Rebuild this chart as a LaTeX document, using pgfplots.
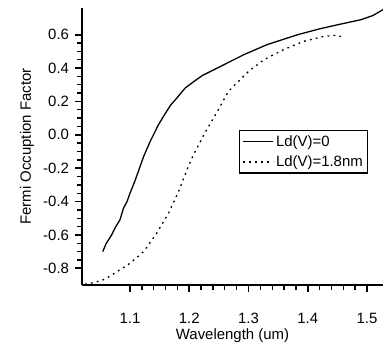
\documentclass[border=0pt]{standalone}
\usepackage{fontspec}
\setmainfont{Liberation Sans}
\usepackage{pgfplots}
\pgfplotsset{compat=1.18}
\begin{document}
\begin{tikzpicture}
\begin{axis}[
  at={(0,0)}, anchor=south west,
  scale only axis, width=301bp, height=277bp,
  xmin=1.019, xmax=1.527, ymin=-0.90, ymax=0.76,
  axis lines*=left,
  axis line style={line width=1.6bp},
  xtick={1.1,1.2,1.3,1.4,1.5},
  ytick={-0.8,-0.6,-0.4,-0.2,0,0.2,0.4,0.6},
  minor x tick num=4, minor y tick num=3,
  tick align=outside,
  major tick length=6.5bp, minor tick length=4.5bp,
  major tick style={black, line width=1.8bp},
  minor tick style={black, line width=1.4bp},
  /pgf/number format/assume math mode=true,
  /pgf/number format/.cd, fixed, fixed zerofill, precision=1, /pgfplots/.cd,
  ticklabel style={font=\fontsize{15}{15}\selectfont},
  xticklabel style={yshift=-18bp},
  yticklabel style={xshift=-3bp},
  xlabel={Wavelength (um)},
  ylabel={Fermi Occuption Factor},
  every axis x label/.style={at={(axis description cs:0.5,0)}, anchor=center, yshift=-51bp},
  every axis y label/.style={at={(axis description cs:0,0.5)}, xshift=-55bp, rotate=90, anchor=center},
  label style={font=\fontsize{15}{15}\selectfont},
  legend style={at={(axis description cs:0.522,0.56)}, anchor=north west, draw=black, line width=1.2bp,
    font=\fontsize{15}{15}\selectfont, inner xsep=3bp, inner ysep=3bp, row sep=4bp},
  legend cell align=left,
  legend image code/.code={\draw[#1] (0bp,0bp) -- (30bp,0bp);},
]
\addplot[black, line width=1.3bp] coordinates {
(1.054,-0.70) (1.060,-0.65) (1.069,-0.60) (1.076,-0.55) (1.083,-0.51)
(1.089,-0.44) (1.095,-0.40) (1.100,-0.35) (1.108,-0.28) (1.115,-0.21)
(1.123,-0.13) (1.134,-0.04) (1.148,0.06) (1.159,0.125) (1.169,0.18)
(1.179,0.22) (1.193,0.28) (1.208,0.32) (1.222,0.355) (1.236,0.38)
(1.264,0.43) (1.292,0.48) (1.331,0.54) (1.383,0.60) (1.420,0.635)
(1.451,0.66) (1.490,0.69) (1.510,0.715) (1.527,0.75)
};
\addlegendentry{Ld(V)=0}
\addplot[black, line width=1.3bp, dash pattern=on 1.8bp off 4.2bp] coordinates {
(1.024,-0.895) (1.040,-0.885) (1.058,-0.865) (1.078,-0.82) (1.100,-0.77)
(1.123,-0.70) (1.145,-0.59) (1.165,-0.47) (1.182,-0.34) (1.196,-0.21)
(1.207,-0.12) (1.216,-0.06) (1.226,0.01) (1.236,0.07) (1.249,0.15)
(1.266,0.26) (1.283,0.32) (1.300,0.38) (1.326,0.45) (1.359,0.51)
(1.393,0.56) (1.427,0.59) (1.445,0.595) (1.456,0.59)
};
\addlegendentry{Ld(V)=1.8nm}
\end{axis}
\pgfresetboundingbox
\path[use as bounding box] (-82bp,-63bp) rectangle (301bp,285bp);
\end{tikzpicture}
\end{document}
